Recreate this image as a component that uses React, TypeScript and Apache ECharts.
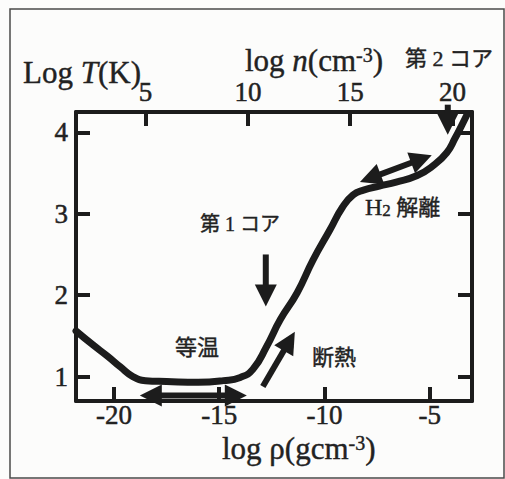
import React, { useEffect, useRef } from "react";
import * as echarts from "echarts";

// Axis ticks
const rhoTicks = [-20, -15, -10, -5];
const nTicks = [5, 10, 15, 20];
const tTicks = [1, 2, 3, 4];

// Evolutionary track of the collapsing cloud centre: log rho (g cm^-3) vs log T (K)
const logRho = [
  -21.8, -21.0, -20.3, -19.7, -19.1, -18.5, -17.5, -16.0, -14.8, -14.0, -13.4,
  -12.75, -12.1, -11.3, -10.55, -9.75, -9.15, -8.65, -8.15, -7.4, -6.6, -5.6,
  -4.85, -4.2, -3.8, -3.5, -3.25,
];
const logT = [
  1.56, 1.39, 1.25, 1.12, 1.0, 0.95, 0.94, 0.93, 0.95, 0.99, 1.09, 1.37, 1.7,
  2.03, 2.43, 2.8, 3.08, 3.23, 3.29, 3.34, 3.39, 3.47, 3.59, 3.75, 3.93, 4.08,
  4.21,
];

// Annotation arrows (data units): tail, tip, and whether both ends carry a head
const arrowTail = [
  [-18.77, 0.767],
  [-12.79, 2.5],
  [-12.93, 0.877],
  [-8.32, 3.39],
  [-4.15, 4.34],
];
const arrowTip = [
  [-13.69, 0.767],
  [-12.79, 1.86],
  [-11.41, 1.55],
  [-4.91, 3.72],
  [-4.15, 3.97],
];
const arrowBothEnds = [1, 0, 0, 1, 0];

const INK = "#1c1c1c";
const TEXT = "#222";
const SERIF = "Liberation Serif, DejaVu Serif, serif";
const MIXED = "Liberation Serif, Noto Sans CJK JP, DejaVu Serif, serif";

export default function App() {
  const ref = useRef<HTMLDivElement>(null);

  useEffect(() => {
    if (!ref.current) return;
    const chart = echarts.init(ref.current, null, { renderer: "svg" });

    const axisLine = { show: true, onZero: false, lineStyle: { color: INK, width: 4 } };
    const tick = (values: number[]) => ({
      show: true,
      inside: true,
      length: 14,
      customValues: values,
      lineStyle: { color: INK, width: 4 },
    });
    const label = (values: number[], margin: number) => ({
      show: true,
      customValues: values,
      margin,
      color: TEXT,
      fontFamily: SERIF,
      fontSize: 27,
      textBorderColor: TEXT,
      textBorderWidth: 0.5,
    });

    const trackData = logRho.map((r, i) => [r, logT[i]]);
    const arrowData = arrowTail.map((t, i) => [
      t[0],
      t[1],
      arrowTip[i][0],
      arrowTip[i][1],
      arrowBothEnds[i],
    ]);

    const renderArrow = (_params: any, api: any) => {
      const a = api.coord([api.value(0), api.value(1)]);
      const b = api.coord([api.value(2), api.value(3)]);
      const both = api.value(4) === 1;
      const dx = b[0] - a[0];
      const dy = b[1] - a[1];
      const len = Math.hypot(dx, dy) || 1;
      const ux = dx / len;
      const uy = dy / len;
      const nx = -uy;
      const ny = ux;
      const L = 22;
      const W = 11;
      const head = (tip: number[], dirx: number, diry: number) => ({
        type: "polygon",
        shape: {
          points: [
            [tip[0], tip[1]],
            [tip[0] - dirx * L + nx * W, tip[1] - diry * L + ny * W],
            [tip[0] - dirx * L - nx * W, tip[1] - diry * L - ny * W],
          ],
        },
        style: { fill: INK },
      });
      const s = both ? [a[0] + ux * L * 0.7, a[1] + uy * L * 0.7] : a;
      const e = [b[0] - ux * L * 0.7, b[1] - uy * L * 0.7];
      const children: any[] = [
        {
          type: "line",
          shape: { x1: s[0], y1: s[1], x2: e[0], y2: e[1] },
          style: { stroke: INK, lineWidth: 6 },
        },
        head(b, ux, uy),
      ];
      if (both) children.push(head(a, -ux, -uy));
      return { type: "group", children };
    };

    const txt = (x: number, y: number, text: string, fontSize: number, rich?: any) => ({
      type: "text",
      x,
      y,
      silent: true,
      style: {
        text,
        fill: TEXT,
        stroke: TEXT,
        lineWidth: 0.4,
        fontFamily: MIXED,
        fontSize,
        align: "left",
        verticalAlign: "middle",
        rich,
      },
    });

    chart.setOption({
      animation: false,
      backgroundColor: "#fcfcfb",
      grid: { left: 76, right: 33, top: 112, bottom: 78 },
      xAxis: [
        {
          type: "value",
          position: "bottom",
          min: -21.8,
          max: -3.0,
          axisLine,
          axisTick: tick(rhoTicks),
          axisLabel: label(rhoTicks, 0),
          splitLine: { show: false },
        },
        {
          type: "value",
          position: "top",
          min: 1.6,
          max: 20.95,
          axisLine,
          axisTick: tick(nTicks),
          axisLabel: label(nTicks, 7),
          splitLine: { show: false },
        },
      ],
      yAxis: [
        {
          type: "value",
          position: "left",
          min: 0.7,
          max: 4.25,
          axisLine,
          axisTick: tick(tTicks),
          axisLabel: label(tTicks, 8),
          splitLine: { show: false },
        },
        {
          type: "value",
          position: "right",
          min: 0.7,
          max: 4.25,
          axisLine,
          axisTick: tick(tTicks),
          axisLabel: { show: false },
          splitLine: { show: false },
        },
      ],
      series: [
        {
          type: "line",
          xAxisIndex: 0,
          yAxisIndex: 0,
          data: trackData,
          smooth: 0.5,
          showSymbol: false,
          symbol: "none",
          lineStyle: { color: INK, width: 7, cap: "round", join: "round" },
          z: 3,
        },
        {
          type: "custom",
          xAxisIndex: 0,
          yAxisIndex: 0,
          data: arrowData,
          renderItem: renderArrow,
          clip: false,
          z: 4,
        },
      ],
      graphic: [
        {
          type: "rect",
          silent: true,
          shape: { x: 10, y: 9, width: 494, height: 469 },
          style: { fill: "none", stroke: "#4a4a4a", lineWidth: 1.5 },
        },
        txt(23, 72, "Log {i|T}(K)", 31, {
          i: { fontStyle: "italic", fontFamily: SERIF, fontSize: 31 },
        }),
        txt(245, 60, "log {i|n}(cm{sup|-3})", 31, {
          i: { fontStyle: "italic", fontFamily: SERIF, fontSize: 31 },
          sup: { fontFamily: SERIF, fontSize: 20, verticalAlign: "top", lineHeight: 20 },
        }),
        txt(405, 58, "第 2 コア", 22),
        txt(222, 448, "log ρ(gcm{sup|-3})", 31, {
          sup: { fontFamily: SERIF, fontSize: 20, verticalAlign: "top", lineHeight: 20 },
        }),
        txt(200, 224, "第 1 コア", 20),
        txt(175, 347, "等温", 22),
        txt(312, 357, "断熱", 22),
        txt(365, 207, "{h|H}{sub|2} 解離", 22, {
          h: { fontFamily: SERIF, fontSize: 24 },
          sub: { fontFamily: SERIF, fontSize: 17, verticalAlign: "bottom", lineHeight: 17 },
        }),
      ],
    });

    return () => chart.dispose();
  }, []);

  return (
    <div
      ref={ref}
      style={{ position: "fixed", left: 0, top: 0, width: 505, height: 479 }}
    />
  );
}
